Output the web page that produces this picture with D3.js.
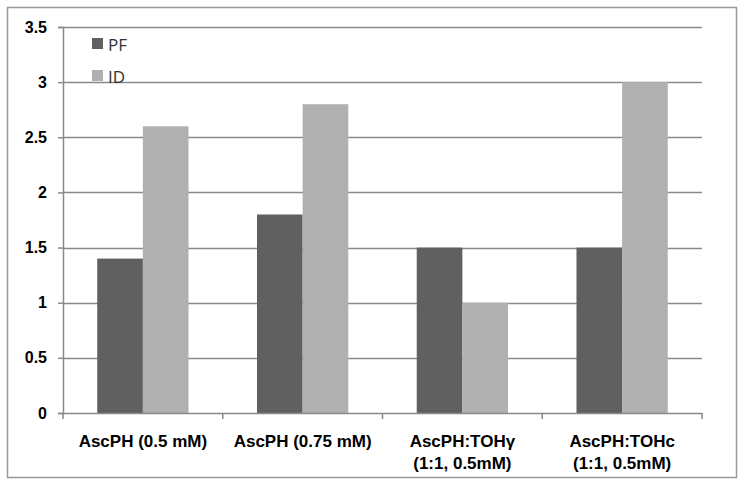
<!DOCTYPE html>
<html><head><meta charset="utf-8">
<script src="https://cdn.jsdelivr.net/npm/d3@7"></script>
<style>body{margin:0;background:#fff}</style>
</head><body>
<svg id="c" width="744" height="485"></svg>
<script>
const categories = [["AscPH (0.5 mM)"], ["AscPH (0.75 mM)"], ["AscPH:TOHγ", "(1:1, 0.5mM)"], ["AscPH:TOHc", "(1:1, 0.5mM)"]];
const seriesNames = ["PF", "ID"];
const pfValues = [1.4, 1.8, 1.5, 1.5];
const idValues = [2.6, 2.8, 1.0, 3.0];
const yTicks = [0, 0.5, 1, 1.5, 2, 2.5, 3, 3.5];
const colors = ["#606060", "#b0b0b0"];

const svg = d3.select("#c");
const L = 63, R = 702, T = 27, B = 413;
svg.append("rect").attr("x", 7.5).attr("y", 7.5).attr("width", 729).attr("height", 470)
  .attr("fill", "none").attr("stroke", "#999").attr("stroke-width", 1.5);

const y = d3.scaleLinear().domain([0, 3.5]).range([B, T]);
const x0 = d3.scaleBand().domain(d3.range(categories.length)).range([L, R]).paddingInner(0).paddingOuter(0);
const bw = x0.bandwidth() * 2 / 7;

// gridlines
svg.append("g").selectAll("line").data(yTicks.filter(d => d > 0)).join("line")
  .attr("x1", L).attr("x2", R).attr("y1", d => Math.round(y(d)) + 0.5).attr("y2", d => Math.round(y(d)) + 0.5)
  .attr("stroke", "#8a8a8a").attr("stroke-width", 1.5);

// bars
const series = [pfValues, idValues];
series.forEach((vals, si) => {
  svg.append("g").selectAll("rect").data(vals).join("rect")
    .attr("x", (d, i) => x0(i) + x0.bandwidth() / 2 - bw + si * bw)
    .attr("width", bw)
    .attr("y", d => y(d)).attr("height", d => B - y(d))
    .attr("fill", colors[si]);
});

// y axis
const yAxis = d3.axisLeft(y).tickValues(yTicks).tickSize(5).tickPadding(11).tickFormat(d3.format("~g"));
const gy = svg.append("g").attr("transform", `translate(${L},0)`).call(yAxis);
gy.select(".domain").attr("stroke", "#8a8a8a").attr("stroke-width", 1.5);
gy.selectAll(".tick line").attr("stroke", "#8a8a8a").attr("stroke-width", 1.5);
gy.selectAll(".tick text").attr("font-family", "Liberation Sans, Arial, sans-serif")
  .attr("font-weight", "bold").attr("font-size", 16).attr("fill", "#000");

// x axis
const xb = d3.scaleLinear().domain([0, categories.length]).range([L, R]);
const gx = svg.append("g").attr("transform", `translate(0,${B})`);
gx.append("line").attr("x1", L).attr("x2", R).attr("y1", 0.5).attr("y2", 0.5).attr("stroke", "#8a8a8a").attr("stroke-width", 1.5);
gx.selectAll("line.t").data(d3.range(categories.length + 1)).join("line").attr("class", "t")
  .attr("x1", d => xb(d)).attr("x2", d => xb(d)).attr("y1", 0).attr("y2", 6)
  .attr("stroke", "#8a8a8a").attr("stroke-width", 1.5);
categories.forEach((lines, i) => {
  const t = svg.append("text").attr("x", x0(i) + x0.bandwidth() / 2).attr("y", 447)
    .attr("text-anchor", "middle").attr("font-family", "Liberation Sans, Arial, sans-serif")
    .attr("font-weight", "bold").attr("font-size", 17).attr("fill", "#000");
  lines.forEach((s, j) => t.append("tspan").attr("x", x0(i) + x0.bandwidth() / 2).attr("dy", j ? 22 : 0).text(s));
});

// legend
seriesNames.forEach((n, i) => {
  const g = svg.append("g").attr("transform", `translate(92,${38 + i * 32})`);
  g.append("rect").attr("width", 11).attr("height", 11).attr("fill", colors[i]);
  g.append("text").attr("x", 16).attr("y", 13).attr("font-family", "Open Sans, sans-serif")
    .attr("font-size", 17).attr("fill", "#333").text(n);
});
</script>
</body></html>
